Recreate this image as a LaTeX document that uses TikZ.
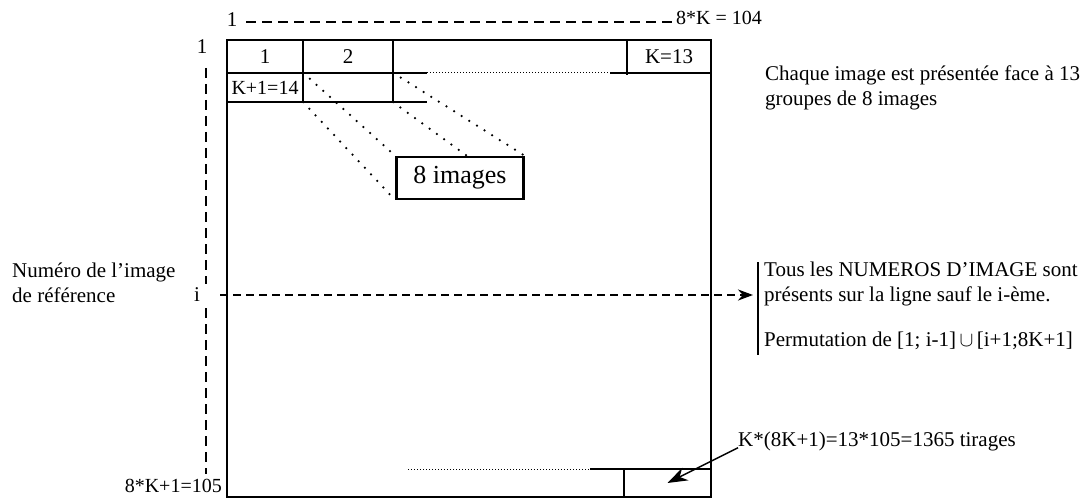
\documentclass[tikz,border=0pt]{standalone}
\usepackage{fontspec}
\setmainfont{Liberation Serif}
\usetikzlibrary{arrows.meta, positioning, calc}

\begin{document}
\begin{tikzpicture}[
  x=1pt, y=-1pt,
  txt/.style={
    font=\fontsize{21}{25}\selectfont, inner sep=0pt, align=left
  },
  cellbox/.style={
    inner sep=0pt, font=\fontsize{21}{25}\selectfont
  },
  frame/.style={line width=2.4pt},
  rule/.style={line width=1.3pt},
  finedots/.style={line width=1pt, dash pattern=on 1pt off 2pt},
  diagdots/.style={line width=2.5pt, line cap=round, dash pattern=on 0pt off 9pt},
  dashline/.style={line width=1.6pt, dash pattern=on 10pt off 6pt},
  harrow/.style={
    -{Stealth[length=15pt, width=11pt]}, line width=2.2pt,
    dash pattern=on 8pt off 5pt
  },
  karrow/.style={
    -{Stealth[length=20pt, width=14pt]}, line width=1.4pt
  }
]
  \useasboundingbox (0,0) rectangle (1090,500);

  % outer frame and grid
  \draw[frame] (227,40) rectangle (711,497);
  \draw[rule] (227,73) -- (427,73);
  \draw[finedots] (427,73) -- (610,73);
  \draw[rule] (610,73) -- (712,73);
  \draw[rule] (227,102) -- (427,102);
  \draw[rule] (303,40) -- (303,102);
  \draw[frame] (393,40) -- (393,73);
  \draw[rule] (393,73) -- (393,102);
  \draw[rule] (627,40) -- (627,75);
  \draw[finedots] (408,469) -- (590,469);
  \draw[rule] (590,469) -- (711,469);
  \draw[rule] (624,469) -- (624,497);

  % cells
  \node[cellbox] (c1) at (265,57) {1};
  \node[cellbox] (c2) at (348,57) {2};
  \node[cellbox] (ck) at (669,57) {K=13};
  \node[cellbox, minimum width=76pt, minimum height=29pt,
        font=\fontsize{20}{22}\selectfont] (c14) at (265,87.5) {K+1=14};
  \node[cellbox, minimum width=90pt, minimum height=29pt] (c15) at (348,87.5) {};
  \node[cellbox, minimum width=87pt, minimum height=28pt] (clast) at (667.5,483) {};

  \node[draw, frame, minimum width=127pt, minimum height=42pt, inner sep=0pt,
        font=\fontsize{26}{30}\selectfont] (imgs) at (460,178) {8 images};
  \draw[diagdots] (c14.north east) -- (imgs.north west);
  \draw[diagdots] (c14.south east) -- (imgs.south west);
  \draw[diagdots] (c15.north east) -- (imgs.north east);
  \draw[diagdots] (c15.south east) -- ($(imgs.north)+(7,0)$);

  % axes
  \node[txt] (top1) at (232,20) {1};
  \node[txt, anchor=west, font=\fontsize{20}{22}\selectfont] (topk) at (676,18) {8*K = 104};
  \draw[dashline] ($(top1.east)+(9,2)$) -- ($(topk.west)+(-4,4)$);

  \node[txt] (left1) at (202,47) {1};
  \node[txt] (lbli) at (197,295) {i};
  \node[txt, anchor=east, font=\fontsize{20}{22}\selectfont] (bot) at (222,486) {8*K+1=105};
  \draw[dashline] (206,68) -- (206,284);
  \draw[dashline] (206,308) -- (206,474);

  \node[txt, anchor=west] (numref) at (12,283) {Numéro de l’image\\de référence};

  % right side
  \coordinate (brk) at (753,295);
  \draw[rule, line width=1.8pt] (758,262) -- (758,355);
  \draw[harrow, shorten <=20pt] (lbli.east) -- (brk);

  \node[txt, anchor=west] (tous) at (764,284) {Tous les NUMEROS D’IMAGE sont\\présents sur la ligne sauf le i-ème.};
  \node[txt, anchor=west] (perm) at (764,341) {Permutation de [1; i-1]\,$\cup$\,[i+1;8K+1]};
  \node[txt, anchor=west] (chaque) at (765,88) {Chaque image est présentée face à 13\\groupes de 8 images};
  \node[txt, anchor=west] (ktir) at (738,441) {K*(8K+1)=13*105=1365 tirages};
  \draw[karrow] ($(ktir.south west)+(0,-3)$) -- (clast.center);
\end{tikzpicture}
\end{document}
